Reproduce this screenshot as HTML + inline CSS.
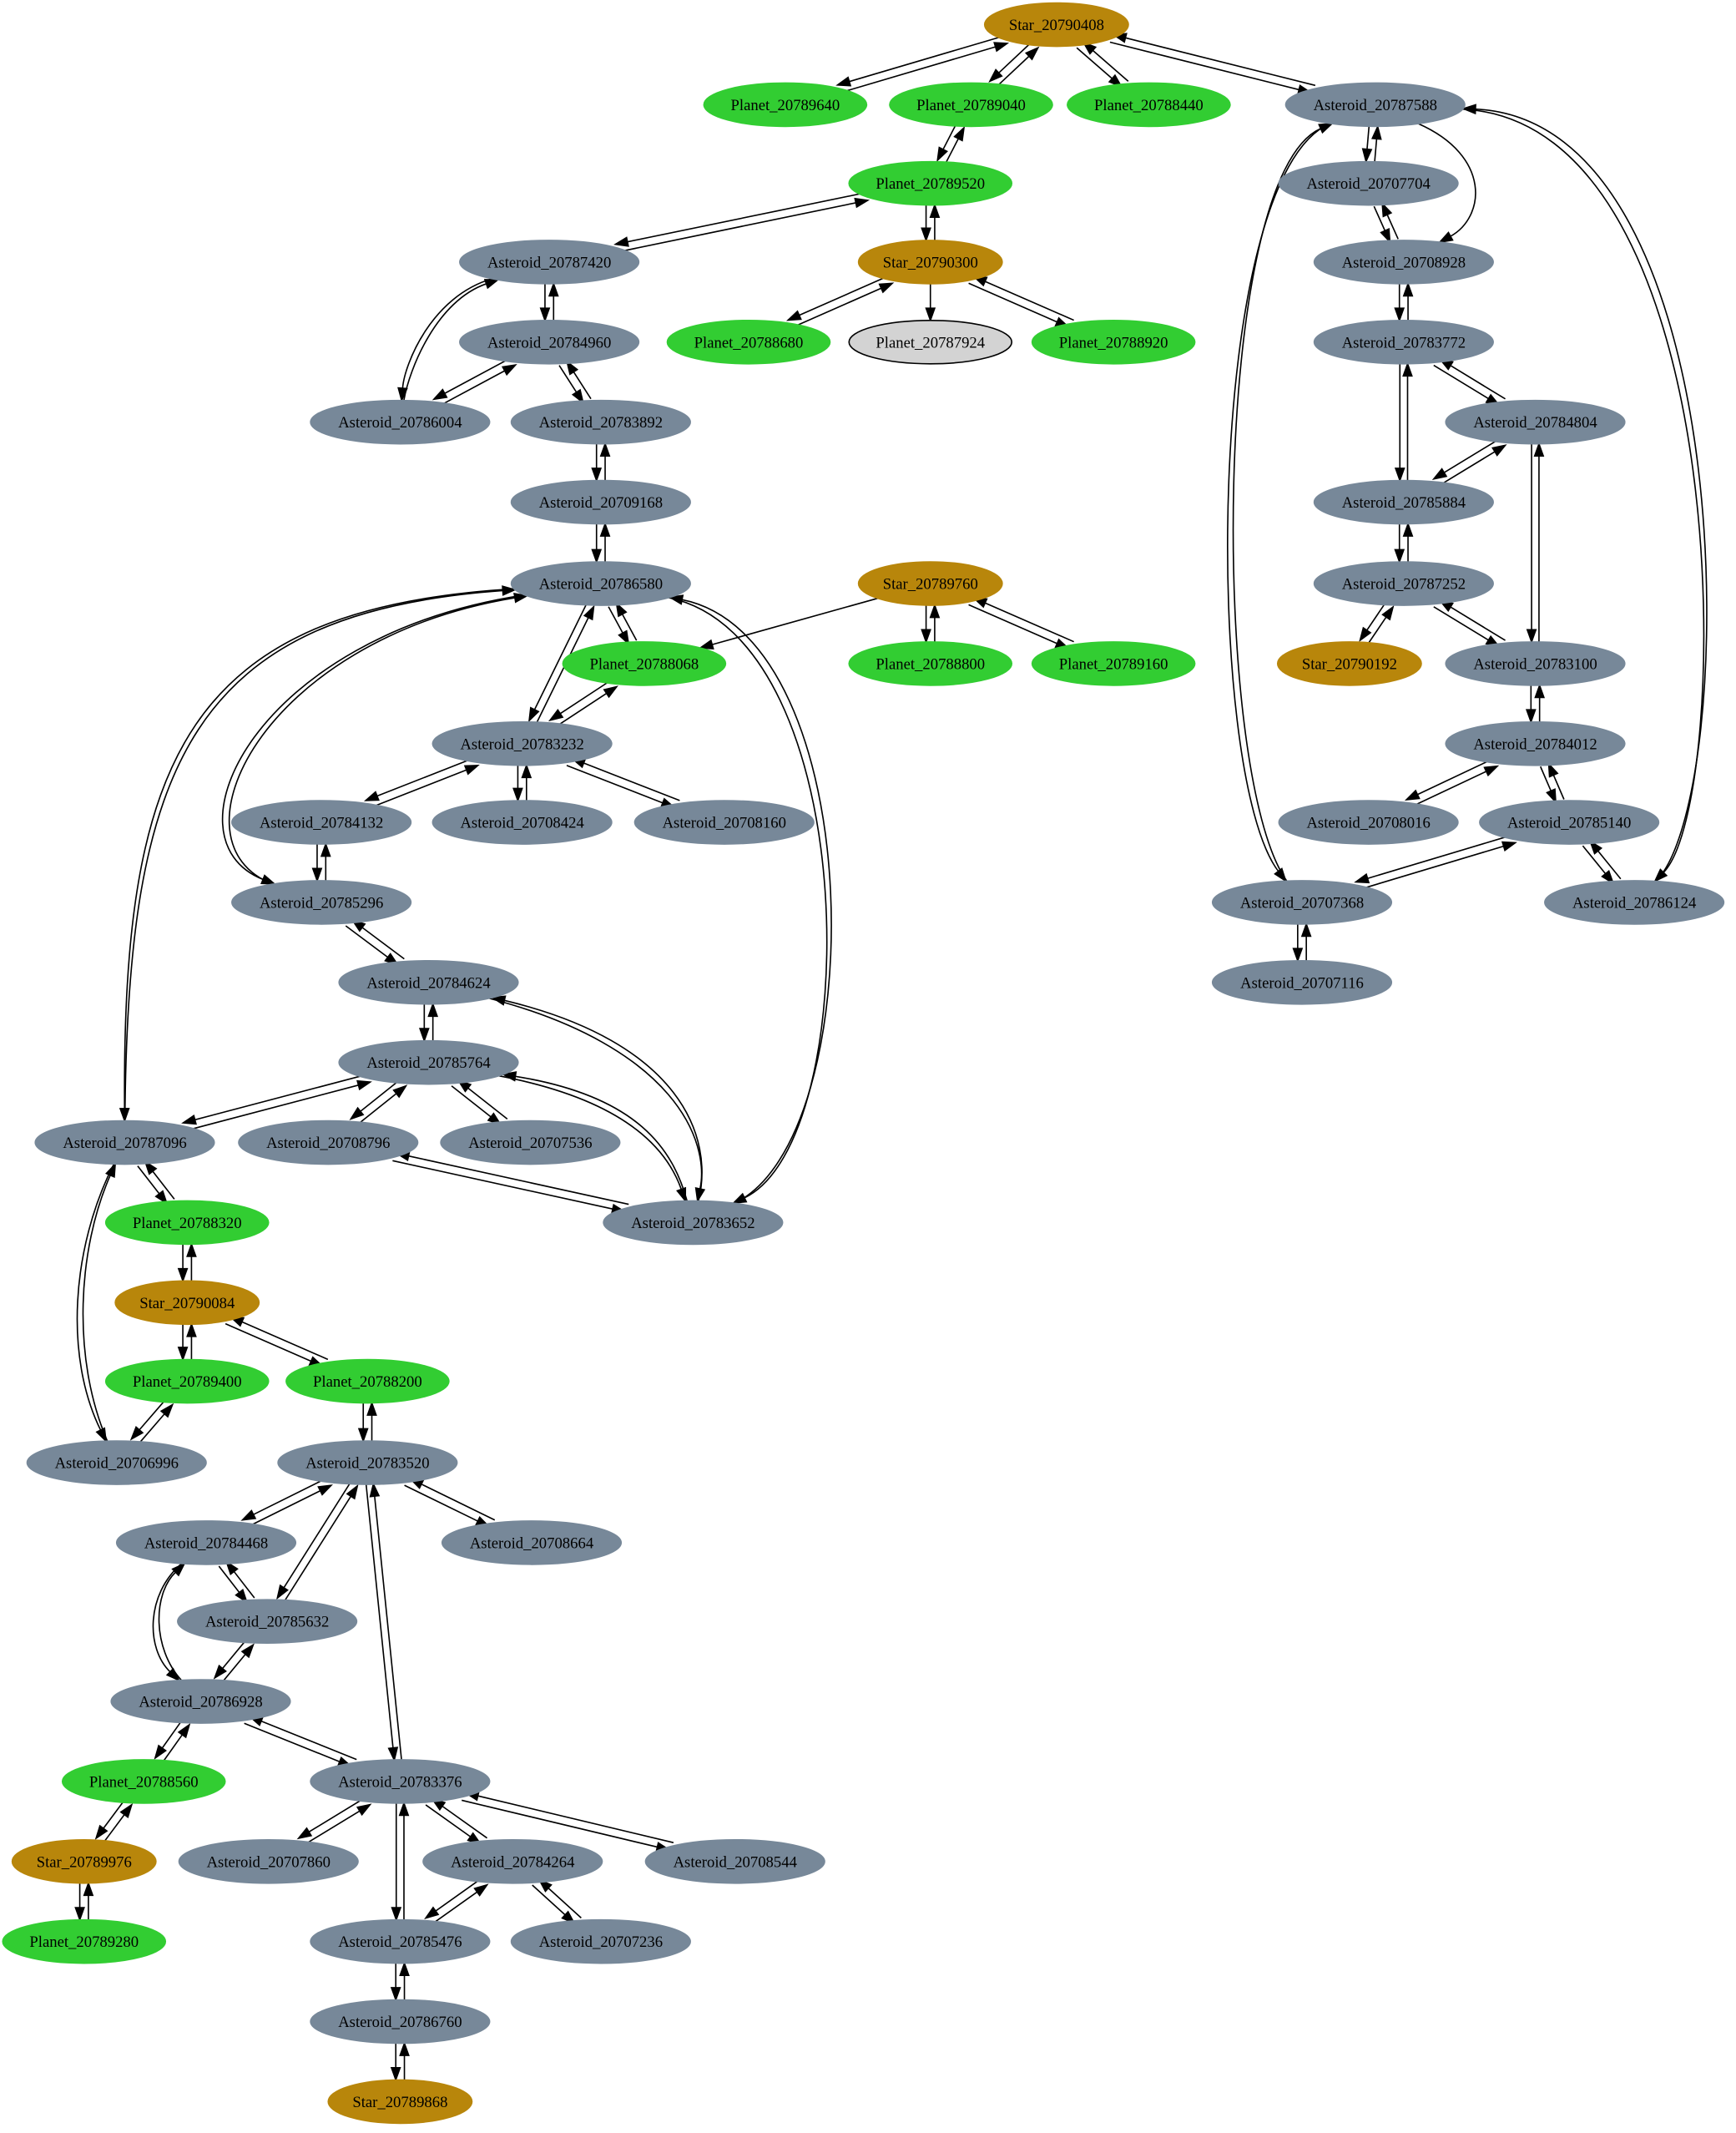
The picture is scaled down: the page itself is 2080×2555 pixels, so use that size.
<!DOCTYPE html>
<html><head><meta charset="utf-8">
<style>
html,body{margin:0;padding:0;background:#fff;}
svg{display:block;}
text{font-family:"Liberation Serif",serif;font-size:11.5px;}
</style></head>
<body>
<svg id="g" xmlns="http://www.w3.org/2000/svg" width="2080" height="2555" viewBox="0 0 1280 1572">
<g id="edges"></g><g id="nodes"></g>
</svg>
<script>
const N={
"Star_20790408":[779,18,"s"],
"Planet_20789640":[579,77,"p"],
"Planet_20789040":[716,77,"p"],
"Planet_20788440":[847,77,"p"],
"Asteroid_20787588":[1014,77,"a"],
"Planet_20789520":[686,135,"p"],
"Asteroid_20787420":[405,193,"a"],
"Star_20790300":[686,193,"s"],
"Asteroid_20784960":[405,252,"a"],
"Planet_20788680":[552,252,"p"],
"Planet_20787924":[686,252,"g"],
"Planet_20788920":[821,252,"p"],
"Asteroid_20786004":[295,311,"a"],
"Asteroid_20783892":[443,311,"a"],
"Asteroid_20709168":[443,370,"a"],
"Asteroid_20786580":[443,430,"a"],
"Star_20789760":[686,430,"s"],
"Planet_20788068":[475,489,"p"],
"Planet_20788800":[686,489,"p"],
"Planet_20789160":[821,489,"p"],
"Asteroid_20783232":[385,548,"a"],
"Asteroid_20784132":[237,606,"a"],
"Asteroid_20708424":[385,606,"a"],
"Asteroid_20708160":[534,606,"a"],
"Asteroid_20785296":[237,665,"a"],
"Asteroid_20784624":[316,724,"a"],
"Asteroid_20785764":[316,783,"a"],
"Asteroid_20787096":[92,842,"a"],
"Asteroid_20708796":[242,842,"a"],
"Asteroid_20707536":[391,842,"a"],
"Asteroid_20783652":[511,901,"a"],
"Planet_20788320":[138,901,"p"],
"Star_20790084":[138,960,"s"],
"Planet_20789400":[138,1018,"p"],
"Planet_20788200":[271,1018,"p"],
"Asteroid_20706996":[86,1078,"a"],
"Asteroid_20783520":[271,1078,"a"],
"Asteroid_20784468":[152,1137,"a"],
"Asteroid_20708664":[392,1137,"a"],
"Asteroid_20785632":[197,1195,"a"],
"Asteroid_20786928":[148,1254,"a"],
"Planet_20788560":[106,1313,"p"],
"Asteroid_20783376":[295,1313,"a"],
"Star_20789976":[62,1372,"s"],
"Asteroid_20707860":[198,1372,"a"],
"Asteroid_20784264":[378,1372,"a"],
"Asteroid_20708544":[542,1372,"a"],
"Planet_20789280":[62,1431,"p"],
"Asteroid_20785476":[295,1431,"a"],
"Asteroid_20707236":[443,1431,"a"],
"Asteroid_20786760":[295,1490,"a"],
"Star_20789868":[295,1549,"s"],
"Asteroid_20707704":[1009,135,"a"],
"Asteroid_20708928":[1035,193,"a"],
"Asteroid_20783772":[1035,252,"a"],
"Asteroid_20784804":[1132,311,"a"],
"Asteroid_20785884":[1035,370,"a"],
"Asteroid_20787252":[1035,430,"a"],
"Star_20790192":[995,489,"s"],
"Asteroid_20783100":[1132,489,"a"],
"Asteroid_20784012":[1132,548,"a"],
"Asteroid_20708016":[1009,606,"a"],
"Asteroid_20785140":[1157,606,"a"],
"Asteroid_20707368":[960,665,"a"],
"Asteroid_20786124":[1205,665,"a"],
"Asteroid_20707116":[960,724,"a"]
};
const RX={s:53,p:60,a:66,g:60}, RY=16;
const FILL={s:"#b8860b",p:"#32cd32",a:"#778899",g:"#d3d3d3"};
const E=[
["Star_20790408","Planet_20789640",1],["Star_20790408","Planet_20789040",1],["Star_20790408","Planet_20788440",1],["Star_20790408","Asteroid_20787588",1],
["Planet_20789040","Planet_20789520",1],["Planet_20789520","Asteroid_20787420",1],["Planet_20789520","Star_20790300",1],
["Star_20790300","Planet_20788680",1],["Star_20790300","Planet_20787924",0],["Star_20790300","Planet_20788920",1],
["Asteroid_20787420","Asteroid_20784960",1],["Asteroid_20787420","Asteroid_20786004",1,[320,220],[300,270]],
["Asteroid_20784960","Asteroid_20786004",1],["Asteroid_20784960","Asteroid_20783892",1],["Asteroid_20783892","Asteroid_20709168",1],
["Asteroid_20709168","Asteroid_20786580",1],["Asteroid_20786580","Planet_20788068",1],["Star_20789760","Planet_20788068",0],
["Star_20789760","Planet_20788800",1],["Star_20789760","Planet_20789160",1],["Asteroid_20786580","Asteroid_20783232",1],
["Planet_20788068","Asteroid_20783232",1],
["Asteroid_20786580","Asteroid_20787096",1,[140,450],[92,560]],
["Asteroid_20786580","Asteroid_20785296",1,[190,470],[120,620]],
["Asteroid_20786580","Asteroid_20783652",1,[640,470],[640,840]],
["Asteroid_20783232","Asteroid_20784132",1],["Asteroid_20783232","Asteroid_20708424",1],["Asteroid_20783232","Asteroid_20708160",1],
["Asteroid_20784132","Asteroid_20785296",1],["Asteroid_20785296","Asteroid_20784624",1],["Asteroid_20784624","Asteroid_20785764",1],
["Asteroid_20784624","Asteroid_20783652",1,[500,770],[525,840]],
["Asteroid_20785764","Asteroid_20787096",1],["Asteroid_20785764","Asteroid_20708796",1],["Asteroid_20785764","Asteroid_20707536",1],
["Asteroid_20785764","Asteroid_20783652",1,[470,810],[495,850]],
["Asteroid_20708796","Asteroid_20783652",1],["Asteroid_20787096","Planet_20788320",1],
["Asteroid_20787096","Asteroid_20706996",1,[55,920],[50,1000]],
["Planet_20788320","Star_20790084",1],["Star_20790084","Planet_20789400",1],["Star_20790084","Planet_20788200",1],
["Planet_20789400","Asteroid_20706996",1],["Planet_20788200","Asteroid_20783520",1],
["Asteroid_20783520","Asteroid_20784468",1],["Asteroid_20783520","Asteroid_20785632",1],["Asteroid_20783520","Asteroid_20708664",1],
["Asteroid_20783520","Asteroid_20783376",1],["Asteroid_20784468","Asteroid_20785632",1],
["Asteroid_20784468","Asteroid_20786928",1,[110,1175],[110,1215]],
["Asteroid_20785632","Asteroid_20786928",1],["Asteroid_20786928","Planet_20788560",1],["Asteroid_20786928","Asteroid_20783376",1],
["Planet_20788560","Star_20789976",1],["Star_20789976","Planet_20789280",1],
["Asteroid_20783376","Asteroid_20707860",1],["Asteroid_20783376","Asteroid_20784264",1],["Asteroid_20783376","Asteroid_20708544",1],
["Asteroid_20783376","Asteroid_20785476",1],["Asteroid_20784264","Asteroid_20785476",1],["Asteroid_20784264","Asteroid_20707236",1],
["Asteroid_20785476","Asteroid_20786760",1],["Asteroid_20786760","Star_20789868",1],
["Asteroid_20787588","Asteroid_20707704",1],
["Asteroid_20787588","Asteroid_20708928",0,[1100,115],[1095,160]],
["Asteroid_20707704","Asteroid_20708928",1],["Asteroid_20708928","Asteroid_20783772",1],
["Asteroid_20783772","Asteroid_20784804",1],["Asteroid_20783772","Asteroid_20785884",1],["Asteroid_20784804","Asteroid_20785884",1],
["Asteroid_20784804","Asteroid_20783100",1],["Asteroid_20785884","Asteroid_20787252",1],["Asteroid_20787252","Star_20790192",1],
["Asteroid_20787252","Asteroid_20783100",1],["Asteroid_20783100","Asteroid_20784012",1],["Asteroid_20784012","Asteroid_20708016",1],
["Asteroid_20784012","Asteroid_20785140",1],["Asteroid_20785140","Asteroid_20707368",1],["Asteroid_20785140","Asteroid_20786124",1],
["Asteroid_20787588","Asteroid_20707368",1,[890,130],[890,570]],
["Asteroid_20787588","Asteroid_20786124",1,[1285,90],[1280,590]],
["Asteroid_20707368","Asteroid_20707116",1]
];
const NS="http://www.w3.org/2000/svg";
const eg=document.getElementById("edges"), ng=document.getElementById("nodes");
function clip(n,tx,ty){const [x,y,t]=N[n];const rx=RX[t];let dx=tx-x,dy=ty-y;const k=1/Math.sqrt((dx*dx)/(rx*rx)+(dy*dy)/(RY*RY));return [x+dx*k,y+dy*k];}
function el(tag,attrs){const e=document.createElementNS(NS,tag);for(const k in attrs)e.setAttribute(k,attrs[k]);return e;}
function drawEdge(a,b,c1,c2,off){
 const A=N[a],B=N[b];
 let dx=B[0]-A[0],dy=B[1]-A[1],L=Math.hypot(dx,dy);let px=-dy/L*off,py=dx/L*off;
 let C1=c1?[c1[0]+px,c1[1]+py]:null, C2=c2?[c2[0]+px,c2[1]+py]:null;
 let s=clip(a,(C1?C1[0]:B[0]+px),(C1?C1[1]:B[1]+py));
 let e=clip(b,(C2?C2[0]:A[0]+px),(C2?C2[1]:A[1]+py));
 if(!C1){s=[s[0]+px,s[1]+py];e=[e[0]+px,e[1]+py];}
 const from=C2?C2:s; let ux=e[0]-from[0],uy=e[1]-from[1],ul=Math.hypot(ux,uy);ux/=ul;uy/=ul;
 const al=9,aw=3.2; const be=[e[0]-ux*al,e[1]-uy*al];
 let d=C1?`M${s[0]},${s[1]} C${C1[0]},${C1[1]} ${C2[0]},${C2[1]} ${be[0]},${be[1]}`:`M${s[0]},${s[1]} L${be[0]},${be[1]}`;
 eg.appendChild(el("path",{d:d,fill:"none",stroke:"#000","stroke-width":1}));
 eg.appendChild(el("polygon",{points:`${e[0]},${e[1]} ${be[0]-uy*aw},${be[1]+ux*aw} ${be[0]+uy*aw},${be[1]-ux*aw}`,fill:"#000",stroke:"#000"}));
}
for(const [a,b,bi,c1,c2] of E){
 if(bi){drawEdge(a,b,c1,c2,2.5);drawEdge(b,a,c2,c1,2.5);}
 else drawEdge(a,b,c1,c2,0);
}
for(const n in N){const [x,y,t]=N[n];
 ng.appendChild(el("ellipse",{cx:x,cy:y,rx:RX[t],ry:RY,fill:FILL[t],stroke:t=="g"?"#000":FILL[t]}));
 const tx=el("text",{x:x,y:y+4,"text-anchor":"middle"});tx.textContent=n;ng.appendChild(tx);}
</script>
</body></html>
